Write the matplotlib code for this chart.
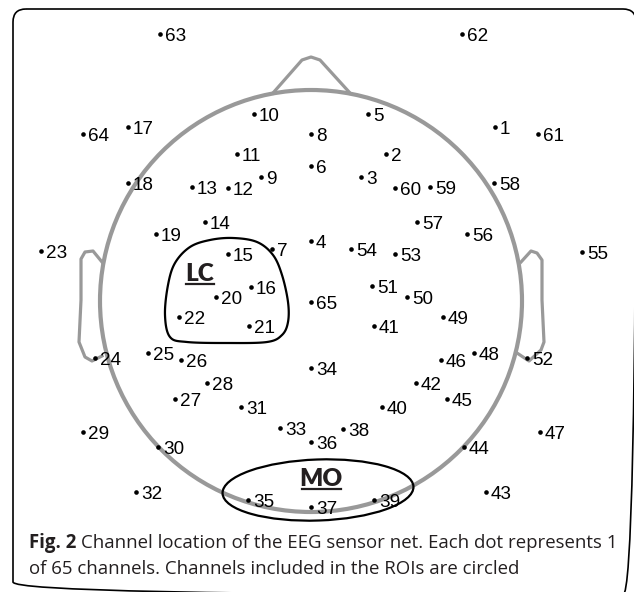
import numpy as np
import matplotlib
matplotlib.use("Agg")
import matplotlib.pyplot as plt
from matplotlib.patches import Circle, Ellipse, FancyBboxPatch, Polygon

# channel numbers and their positions on the sheet (pixels, y grows downward)
channels = [63, 62, 64, 17, 1, 61, 10, 5, 8, 11, 2, 6,
            18, 13, 12, 9, 3, 60, 59, 58,
            14, 57, 19, 56, 23, 4, 54, 15, 7, 53, 55,
            16, 51, 20, 50, 65, 22, 21, 41, 49,
            24, 25, 26, 46, 48, 52, 34, 28, 42, 27, 45,
            31, 40, 29, 33, 38, 36, 47, 30, 44,
            32, 35, 37, 39, 43]
chan_x = [160, 462, 83, 128, 495, 538, 254, 368, 311, 237, 386, 311,
          128, 192, 228, 261, 361, 395, 430, 494,
          205, 417, 156, 467, 41, 311, 351, 228, 272, 395, 582,
          251, 372, 216, 407, 311, 179, 249, 374, 443,
          95, 148, 181, 441, 474, 527, 311, 207, 416, 175, 447,
          241, 382, 83, 280, 343, 311, 540, 158, 464,
          136, 248, 311, 374, 486]
chan_y = [34, 34, 134, 127, 127, 134, 114, 114, 134, 154, 154, 166,
          183, 187, 188, 177, 177, 188, 187, 183,
          222, 222, 234, 234, 251, 241, 249, 254, 249, 254, 252,
          287, 286, 297, 297, 302, 317, 326, 326, 317,
          358, 353, 360, 360, 353, 358, 368, 383, 383, 399, 399,
          407, 407, 432, 428, 429, 442, 432, 447, 447,
          492, 500, 507, 500, 492]

roi_names = ["LC", "MO"]
caption_bold = "Fig. 2"
caption_1 = "Channel location of the EEG sensor net. Each dot represents 1"
caption_2 = "of 65 channels. Channels included in the ROIs are circled"

W, H = 634, 592
GRAY = "#999999"
INK = "#231f20"


def closed_spline(pts, n=30):
    # periodic Catmull-Rom through the outline points
    p = np.asarray(pts, float)
    out = []
    k = len(p)
    for i in range(k):
        p0, p1, p2, p3 = p[i - 1], p[i], p[(i + 1) % k], p[(i + 2) % k]
        t = np.linspace(0, 1, n, endpoint=False)[:, None]
        out.append(0.5 * ((2 * p1) + (-p0 + p2) * t
                          + (2 * p0 - 5 * p1 + 4 * p2 - p3) * t ** 2
                          + (-p0 + 3 * p1 - 3 * p2 + p3) * t ** 3))
    return np.vstack(out)


fig = plt.figure(figsize=(W / 100, H / 100), dpi=100)
ax = fig.add_axes([0, 0, 1, 1])
ax.set_xlim(0, W)
ax.set_ylim(H, 0)
ax.axis("off")

# rounded frame (right edge falls just outside the sheet)
ax.add_patch(FancyBboxPatch((13, 9), 623, 586, boxstyle="round,pad=0,rounding_size=13",
                            fill=False, ec="black", lw=1.2))

# nose and ears
nose = [(273, 93), (302, 60), (311, 57), (320, 60), (350, 93)]
ax.plot(*zip(*nose), color=GRAY, lw=2.3, solid_joinstyle="round")
ear_l = [(102, 262), (93, 251), (85, 252), (81, 259), (81, 300), (79, 342),
         (85, 357), (92, 361), (102, 356)]
ear_r = [(521, 262), (531, 251), (537, 253), (542, 260), (542, 300), (544, 342),
         (541, 350), (529, 361), (517, 353)]
ax.plot(*zip(*ear_l), color=GRAY, lw=2.3, solid_joinstyle="round")
ax.plot(*zip(*ear_r), color=GRAY, lw=2.3, solid_joinstyle="round")

# head
ax.add_patch(Circle((311, 301), 211, fill=False, ec=GRAY, lw=3.0))

# ROI outlines
lc_pts = [(165, 315), (168, 285), (175, 263), (190, 247), (210, 240), (233, 238),
          (257, 242), (273, 255), (282, 275), (288, 302), (288, 322), (282, 335),
          (267, 342), (227, 343), (187, 342), (170, 337)]
ax.add_patch(Polygon(closed_spline(lc_pts), closed=True, fill=False, ec="black", lw=1.6))
ax.add_patch(Ellipse((318, 490), 191, 61, angle=-2, fill=False, ec="black", lw=1.6))

# ROI names, bold and underlined
roi_pos = [(199.5, 281), (321, 486)]
for name, (cx, by) in zip(roi_names, roi_pos):
    ax.text(cx, by, name, ha="center", va="baseline", fontsize=17.5,
            fontweight="heavy", family="Lato", color=INK)
    half = 14 if name == "LC" else 19.5
    ax.plot([cx - half, cx + half], [by + 3.2, by + 3.2], color=INK, lw=1.6)

# channels
ax.scatter(chan_x, chan_y, s=11, color="black", zorder=5, linewidths=0)
for ch, x, y in zip(channels, chan_x, chan_y):
    ax.text(x + 5, y + 6.6, str(ch), ha="left", va="baseline", fontsize=13.6,
            family="Liberation Sans", color="black", zorder=6)

# caption
cap_kw = dict(va="baseline", fontsize=13.4, family="Open Sans", color=INK)
t1 = ax.text(29, 548, caption_bold, fontweight="bold", **cap_kw)
fig.canvas.draw()
bb = t1.get_window_extent(fig.canvas.get_renderer())
x_end = ax.transData.inverted().transform((bb.x1, bb.y0))[0]
ax.text(x_end + 5, 548, caption_1, **cap_kw)
ax.text(29, 574, caption_2, **cap_kw)

fig.savefig("out.png", dpi=100)
